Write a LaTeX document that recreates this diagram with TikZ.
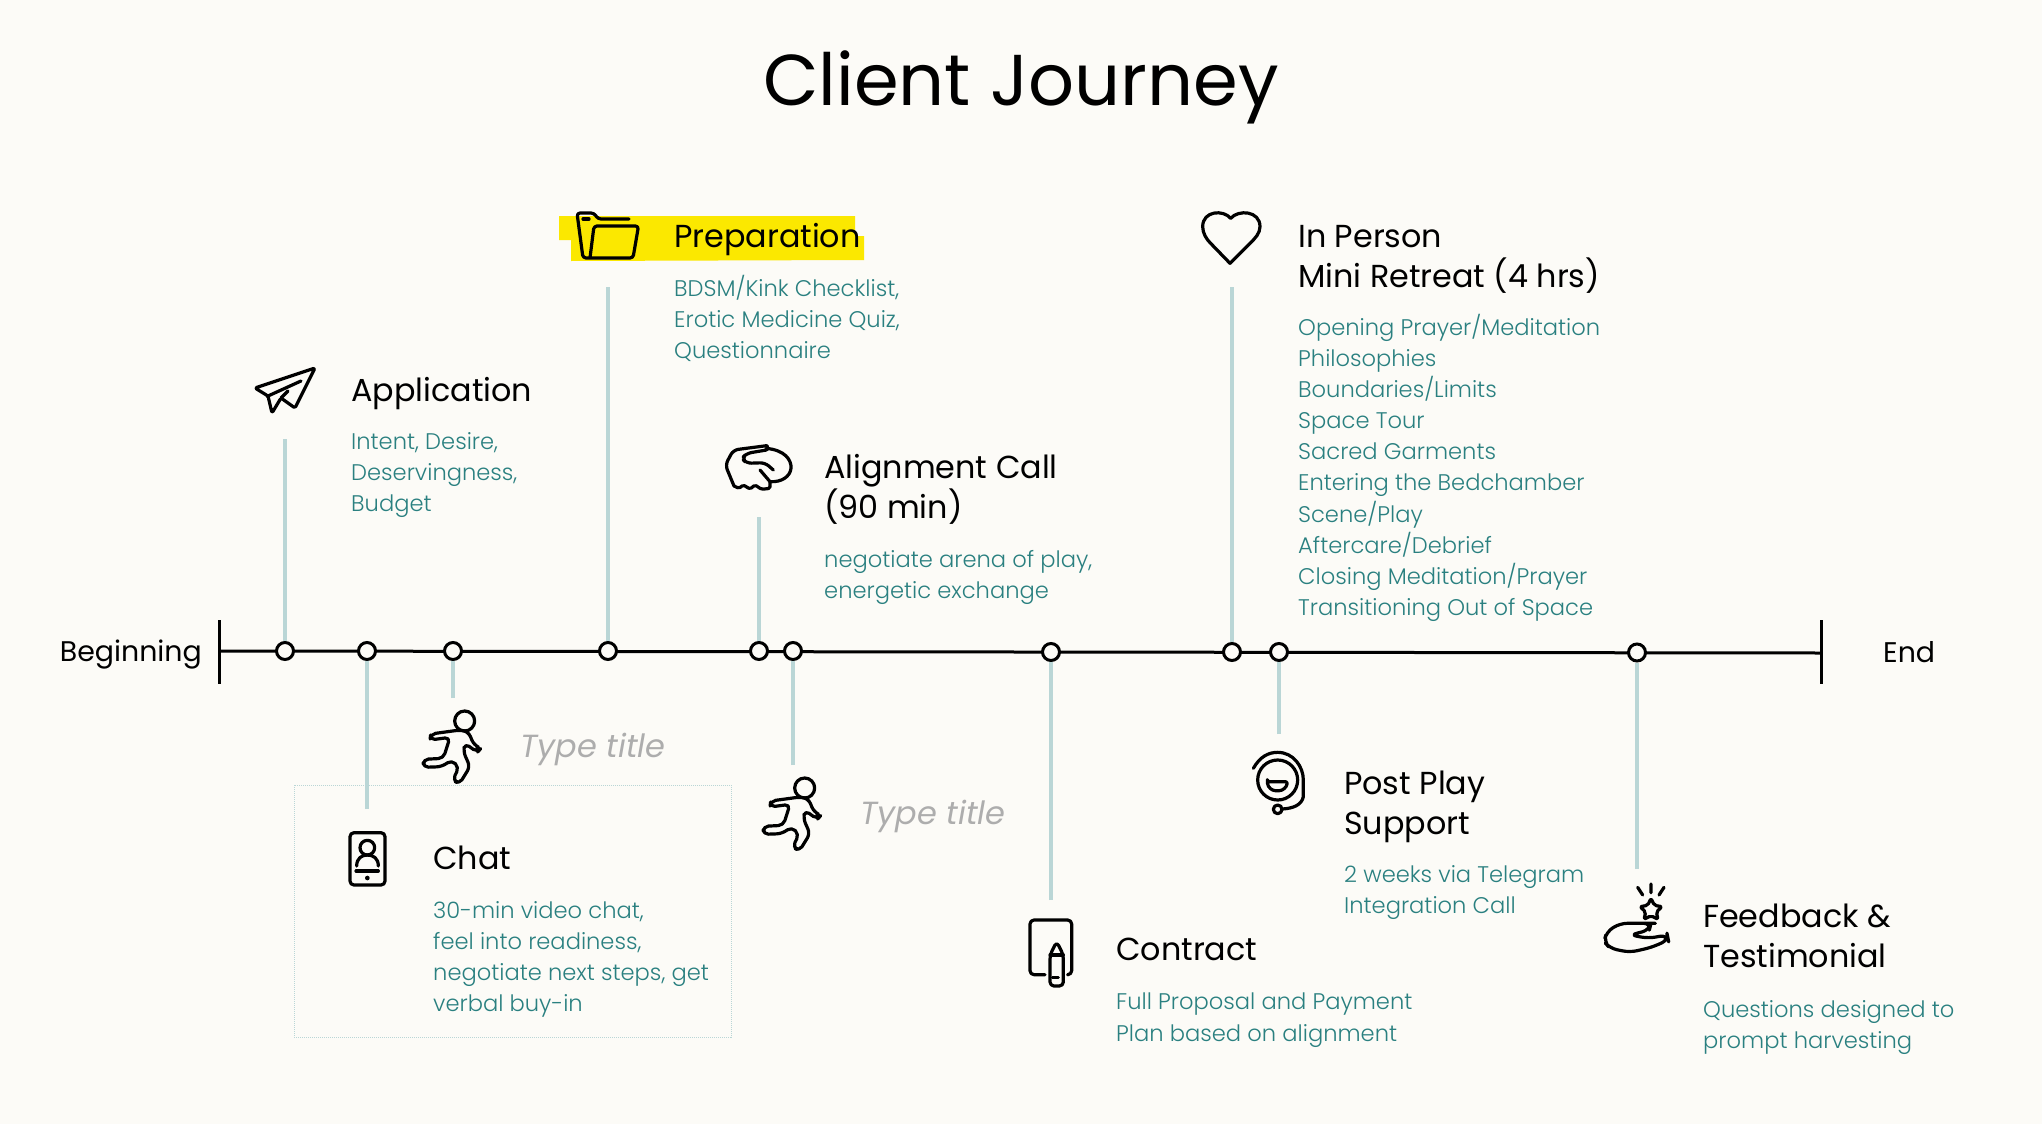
\documentclass[tikz,border=0pt]{standalone}
\usepackage{fontspec}
\setmainfont{Poppins}
\newfontfamily\lightfont{Poppins Light}
\usetikzlibrary{positioning, arrows.meta}
\definecolor{paper}{HTML}{FCFBF7}
\definecolor{tealtext}{HTML}{2A8080}
\definecolor{stemcol}{HTML}{BAD6D6}
\definecolor{marker}{HTML}{FBE800}
\tikzset{
  x=1pt, y=-1pt,
  stop/.style     = {circle, draw, line width=3pt, fill=paper, minimum size=17pt, inner sep=0pt},
  stem/.style     = {draw=stemcol, line width=3.5pt},
  axis/.style     = {draw=black, line width=3pt},
  icon/.style     = {draw=black, line width=3.2pt, line join=round, line cap=round},
  heading/.style  = {anchor=north west, inner sep=0pt, align=left, font=\fontsize{31.8}{40}\selectfont},
  detail/.style   = {anchor=north west, inner sep=0pt, align=left, text=tealtext, font=\lightfont\fontsize{22.6}{31.1}\selectfont},
  typetitle/.style= {anchor=west, inner sep=0pt, text=black!32, font=\itshape\fontsize{32}{36}\selectfont},
  endlabel/.style = {inner sep=0pt, font=\fontsize{28.4}{32}\selectfont}
}
\newcommand{\runnericon}[2]{%
  \begin{scope}[shift={(#1,#2)}, scale=1/3]
    \draw[icon] (194,123) circle (30);
    \draw[icon, rounded corners=5pt] (180,150) -- (92,162) -- (90,180) -- (150,172) -- (130,235) -- (70,238) -- (70,262)
      -- (125,260) -- (155,240) -- (177,262) -- (158,300) -- (178,312) -- (210,260) -- (190,215) -- (195,190)
      -- (232,217) -- (243,205) -- (222,195) -- (205,155) -- cycle;
  \end{scope}}
\begin{document}
\begin{tikzpicture}
  \fill[paper] (0,0) rectangle (2042,1124);
  \node[inner sep=0pt, font=\fontsize{72}{80}\selectfont] (title) at (1021,87) {Client Journey};

  \fill[marker] (559,216) -- (855,216) -- (855,236) -- (864,236) -- (864,260) -- (571,261) -- (571,240) -- (559,240) -- cycle;
  \draw[stemcol, densely dotted, line width=1pt] (294,785) rectangle (731,1037);

  \coordinate (axisl) at (219,651);
  \coordinate (axisr) at (1821,653);
  \coordinate (axislt) at (219,620);
  \coordinate (axislb) at (219,684);
  \coordinate (axisrt) at (1821,620);
  \coordinate (axisrb) at (1821,684);
  \draw[axis] (axisl) -- (axisr);
  \draw[axis] (axislt) -- (axislb);
  \draw[axis] (axisrt) -- (axisrb);

  \coordinate (eapp)  at (285,439);
  \coordinate (echat) at (367,809);
  \coordinate (erun1) at (453,698);
  \coordinate (eprep) at (608,287);
  \coordinate (ealgn) at (759,517);
  \coordinate (erun2) at (793,765);
  \coordinate (ecntr) at (1051,900);
  \coordinate (eretr) at (1232,287);
  \coordinate (epost) at (1279,734);
  \coordinate (efeed) at (1637,869);

  \node[stop] (sapp)  at (285,651) {};
  \node[stop] (schat) at (367,651) {};
  \node[stop] (srun1) at (453,651) {};
  \node[stop] (sprep) at (608,651) {};
  \node[stop] (salgn) at (759,651) {};
  \node[stop] (srun2) at (793,651) {};
  \node[stop] (scntr) at (1051,652) {};
  \node[stop] (sretr) at (1232,652) {};
  \node[stop] (spost) at (1279,652) {};
  \node[stop] (sfeed) at (1637,652.5) {};

  \draw[stem] (eapp)  -- (sapp);
  \draw[stem] (echat) -- (schat);
  \draw[stem] (erun1) -- (srun1);
  \draw[stem] (eprep) -- (sprep);
  \draw[stem] (ealgn) -- (salgn);
  \draw[stem] (erun2) -- (srun2);
  \draw[stem] (ecntr) -- (scntr);
  \draw[stem] (eretr) -- (sretr);
  \draw[stem] (epost) -- (spost);
  \draw[stem] (efeed) -- (sfeed);

  \node[endlabel, anchor=east] (begin) at (202,655) {Beginning};
  \node[endlabel, anchor=west] (end)   at (1883,652) {End};

  \node[heading] (happ)  at (351,377) {Application};
  \node[detail]  (dapp)  at (351,432) {Intent, Desire,\\Deservingness,\\Budget};
  \node[heading] (hprep) at (674,223) {Preparation};
  \node[detail]  (dprep) at (674,275) {BDSM/Kink Checklist,\\Erotic Medicine Quiz,\\Questionnaire};
  \node[heading] (halgn) at (824,454) {Alignment Call\\(90 min)};
  \node[detail]  (dalgn) at (824,550) {negotiate arena of play,\\energetic exchange};
  \node[heading] (hretr) at (1298,225) {In Person\\Mini Retreat (4 hrs)};
  \node[detail]  (dretr) at (1298,314) {Opening Prayer/Meditation\\Philosophies\\Boundaries/Limits\\Space Tour\\Sacred Garments\\Entering the Bedchamber\\Scene/Play\\Aftercare/Debrief\\Closing Meditation/Prayer\\Transitioning Out of Space};
  \node[heading] (hchat) at (433,846) {Chat};
  \node[detail]  (dchat) at (433,901) {30-min video chat,\\feel into readiness,\\negotiate next steps, get\\verbal buy-in};
  \node[heading] (hpost) at (1344,771) {Post Play\\Support};
  \node[detail]  (dpost) at (1344,865) {2 weeks via Telegram\\Integration Call};
  \node[heading] (hcntr) at (1116,938) {Contract};
  \node[detail]  (dcntr) at (1116,993) {Full Proposal and Payment\\Plan based on alignment};
  \node[heading] (hfeed) at (1703,904) {Feedback \&\\Testimonial};
  \node[detail]  (dfeed) at (1703,1000) {Questions designed to\\prompt harvesting};
  \node[typetitle] (trun1) at (520,749) {Type title};
  \node[typetitle] (trun2) at (860,816) {Type title};

  \draw[icon, rounded corners=1.5pt] (315,368) -- (255,388) -- (268,396) -- (272,413) -- (281,398) -- (295,408) -- cycle;
  \draw[icon] (268,396) -- (301,381) (281,398) -- (288,391);

  \draw[icon, rounded corners=3pt] (629,219) -- (598,219) -- (594,213) -- (577,213) -- (583,258) -- (633,258) -- (638.5,226) -- (594,226) -- (590,258);
  \draw[icon] (583,219) -- (589,219);

  \begin{scope}[shift={(690,420)}, scale=1/3]
    \draw[icon, rounded corners=5pt] (230,77) -- (130,90) -- (106,135) -- (132,198);
    \draw[icon, rounded corners=1.5pt] (132,198) -- (147,205) -- (160,195) -- (180,207) -- (195,195) -- (215,208) -- (240,205) -- (240,185);
    \draw[icon] (228,85) .. controls (285,90) and (305,120) .. (303,145) .. controls (300,170) and (275,187) .. (240,185);
    \draw[icon, rounded corners=5pt] (230,77) -- (242,88) -- (170,100) -- (155,115) -- (170,130) -- (225,128) -- (250,150);
    \draw[icon] (210,150) -- (240,185);
  \end{scope}

  \begin{scope}[shift={(1180,190)}, scale=1/3]
    \draw[icon] (152,85) .. controls (130,58) and (68,62) .. (68,110) .. controls (68,130) and (80,148) .. (90,158) -- (150,220) -- (212,158) .. controls (225,145) and (240,130) .. (240,110) .. controls (240,62) and (175,58) .. (152,85) -- cycle;
  \end{scope}

  \runnericon{400}{680}
  \runnericon{740}{747}

  \begin{scope}[shift={(320,800)}, scale=1/3]
    \draw[icon, rounded corners=4pt] (90,98) rectangle (195,255);
    \draw[icon] (142,143) circle (22);
    \draw[icon] (110,198) .. controls (110,175) and (125,165) .. (142,165) .. controls (160,165) and (175,175) .. (175,198);
    \draw[icon] (108,213) -- (175,213);
    \fill (142,234) circle (7);
  \end{scope}

  \begin{scope}[shift={(1000,880)}, scale=1/3]
    \draw[icon, rounded corners=4pt] (135,284) -- (90,284) -- (90,120) -- (215,120) -- (215,284) -- (205,284);
    \draw[icon, rounded corners=4pt] (150,225) -- (170,185) -- (190,225) -- (190,318) -- (150,318) -- cycle;
    \draw[icon] (150,225) -- (190,225) (157,293) -- (175,293);
  \end{scope}

  \begin{scope}[shift={(1230,730)}, scale=1/3]
    \draw[icon] (143,150) circle (60);
    \draw[icon] (70,115) .. controls (90,80) and (115,67) .. (143,67) .. controls (190,67) and (220,110) .. (220,150) -- (220,200) .. controls (215,225) and (190,235) .. (157,237);
    \draw[icon] (143,238) circle (13);
    \draw[icon, rounded corners=2pt] (112,155) -- (172,155) .. controls (170,172) and (158,182) .. (142,182) .. controls (126,182) and (114,172) .. (112,155) -- cycle;
  \end{scope}

  \begin{scope}[shift={(1580,860)}, scale=1/3]
    \draw[icon, rounded corners=2pt] (213,115) -- (223,136) -- (246,140) -- (229,156) -- (234,178) -- (213,167) -- (192,178) -- (197,156) -- (180,140) -- (203,136) -- cycle;
    \draw[icon] (173,82) -- (188,105) (213,72) -- (213,98) (252,82) -- (237,105);
    \draw[icon, rounded corners=7pt] (205,190) -- (120,190) -- (80,215) -- (72,245) -- (90,265) -- (150,277) -- (215,262) -- (265,240) -- (262,225) -- (205,235) -- (150,225) -- (208,210) -- (213,190) -- cycle;
  \end{scope}
\end{tikzpicture}
\end{document}
